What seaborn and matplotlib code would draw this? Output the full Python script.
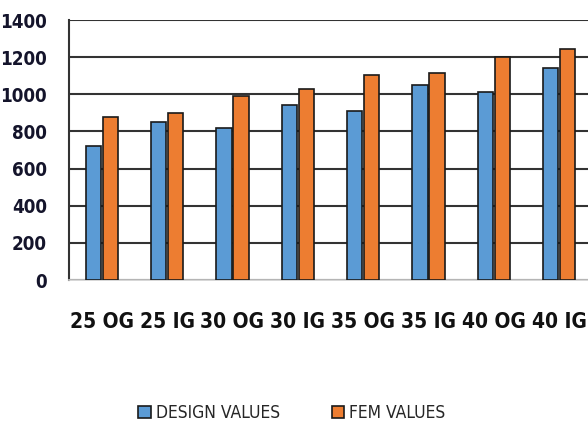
import numpy as np
import pandas as pd
import matplotlib
matplotlib.use("Agg")
import matplotlib.pyplot as plt
import seaborn as sns

categories = ['25 OG', '25 IG', '30 OG', '30 IG', '35 OG', '35 IG', '40 OG', '40 IG']
design_values = [720, 850, 820, 945, 910, 1050, 1010, 1140]
fem_values = [880, 900, 990, 1030, 1105, 1115, 1200, 1245]
series_names = ['DESIGN VALUES', 'FEM VALUES']
colors = ['#5B9BD5', '#ED7D31']

df = pd.DataFrame({
    'case': categories * 2,
    'value': design_values + fem_values,
    'series': [series_names[0]] * len(categories) + [series_names[1]] * len(categories),
})

sns.set_style('white')
plt.rcParams['font.family'] = ['DejaVu Sans']
plt.rcParams['font.stretch'] = 'condensed'

fig = plt.figure(figsize=(5.88, 4.25), dpi=100)
ax = fig.add_axes([69 / 588, 1 - 280 / 425, 523 / 588, 260 / 425])

sns.barplot(data=df, x='case', y='value', hue='series', palette=colors,
            saturation=1, width=0.52, gap=0.1, edgecolor='#1a1a1a',
            linewidth=1.2, ax=ax, zorder=3)

ax.set_ylim(0, 1400)
ax.set_yticks(np.arange(0, 1401, 200))
ax.set_xlim(-0.5, len(categories) - 0.5)
ax.yaxis.grid(True, color='#333333', linewidth=1.5, zorder=0)
ax.set_axisbelow(True)
for s in ['top', 'right']:
    ax.spines[s].set_visible(False)
ax.spines['left'].set_color('#333333')
ax.spines['left'].set_linewidth(1.5)
ax.spines['bottom'].set_color('#d0d0d0')
ax.spines['bottom'].set_linewidth(1.2)
ax.tick_params(axis='both', length=0)
ax.tick_params(axis='y', pad=16)
ax.tick_params(axis='x', pad=23)
for lbl in ax.get_yticklabels():
    lbl.set_fontsize(13.5)
    lbl.set_fontweight('bold')
    lbl.set_fontstretch('condensed')
    lbl.set_color('#14142b')
for lbl in ax.get_xticklabels():
    lbl.set_fontsize(15)
    lbl.set_fontweight('bold')
    lbl.set_fontstretch('condensed')
    lbl.set_color('#111111')
ax.set_xlabel('')
ax.set_ylabel('')

handles, labels = ax.get_legend_handles_labels()
ax.legend_.remove()
fig.legend(handles, labels, loc='center', bbox_to_anchor=(292 / 588, 1 - 413 / 425),
           ncol=2, frameon=False, handlelength=0.7, handleheight=0.7,
           handletextpad=0.3, columnspacing=3.0,
           prop={'size': 12.5, 'family': 'DejaVu Sans', 'stretch': 'condensed'})

fig.savefig('out.png', dpi=100)
